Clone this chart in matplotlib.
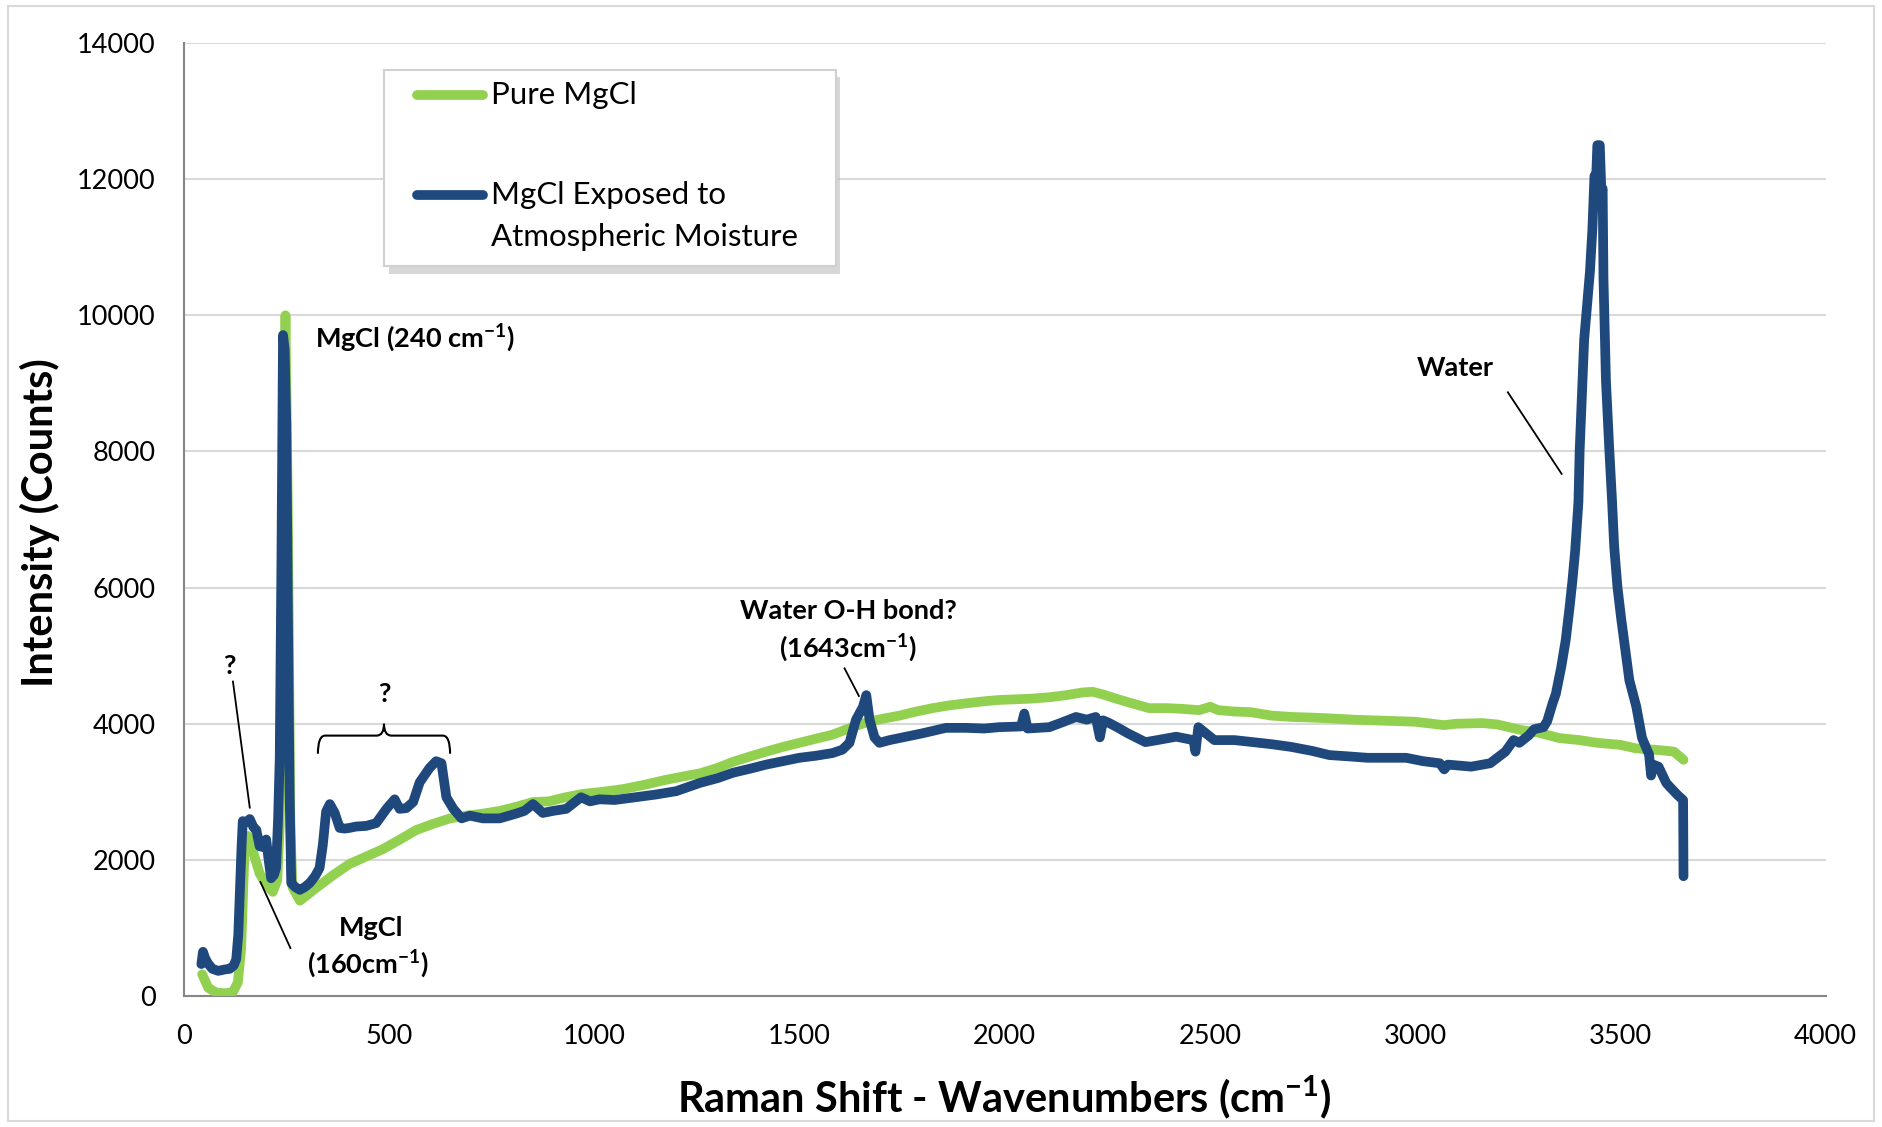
import matplotlib.pyplot as plt
from matplotlib.patches import Rectangle
from matplotlib.path import Path
from matplotlib.patches import PathPatch

plt.rcParams['font.family'] = ['Lato', 'DejaVu Sans']
plt.rcParams['mathtext.fontset'] = 'custom'
plt.rcParams['mathtext.rm'] = 'Lato'
plt.rcParams['mathtext.bf'] = 'Lato:bold'

# Pure MgCl spectrum (wavenumber, counts)
pure_x = [45, 60, 80, 100, 120, 132, 140, 149, 157, 170,
          185, 200, 217, 228, 234, 240, 248, 254, 260, 265,
          283, 323, 365, 404, 445, 486, 527, 567, 608, 649,
          689, 729, 770, 810, 851, 890, 930, 973, 1020, 1070,
          1120, 1170, 1220, 1257, 1300, 1338, 1380, 1419, 1460, 1500,
          1540, 1581, 1620, 1663, 1700, 1744, 1785, 1825, 1865, 1906,
          1950, 1987, 2030, 2068, 2110, 2150, 2190, 2214, 2240, 2271,
          2310, 2352, 2393, 2430, 2474, 2501, 2520, 2560, 2600, 2650,
          2700, 2750, 2791, 2850, 2900, 2950, 3000, 3071, 3100, 3164,
          3200, 3257, 3300, 3351, 3400, 3444, 3500, 3537, 3600, 3631,
          3654]
pure_y = [320, 120, 50, 40, 60, 200, 700, 2250, 2350, 2100,
          1800, 1650, 1530, 1700, 2500, 6000, 10000, 7000, 2500, 1600,
          1400, 1590, 1780, 1940, 2050, 2160, 2300, 2440, 2530, 2610,
          2650, 2680, 2720, 2780, 2850, 2860, 2920, 2970, 3000, 3040,
          3100, 3170, 3230, 3270, 3350, 3440, 3520, 3590, 3660, 3720,
          3780, 3840, 3930, 4020, 4070, 4120, 4180, 4230, 4270, 4300,
          4330, 4350, 4360, 4370, 4390, 4420, 4460, 4470, 4430, 4370,
          4300, 4230, 4230, 4220, 4200, 4250, 4200, 4180, 4170, 4120,
          4100, 4090, 4080, 4060, 4050, 4040, 4030, 3980, 4000, 4010,
          3990, 3910, 3870, 3790, 3760, 3720, 3690, 3640, 3610, 3590,
          3470]

# MgCl exposed to atmospheric moisture
wet_x = [43, 47, 52, 59, 70, 84, 100, 112, 122, 128,
         133, 136, 141, 144, 152, 161, 170, 177, 185, 193,
         201, 207, 213, 220, 225, 230, 234, 238, 242, 246,
         250, 254, 258, 262, 272, 283, 295, 307, 320, 331,
         339, 347, 356, 368, 380, 392, 404, 420, 445, 469,
         494, 514, 526, 542, 559, 575, 599, 615, 628, 640,
         657, 677, 697, 729, 770, 810, 830, 851, 875, 900,
         932, 968, 990, 1013, 1050, 1100, 1150, 1200, 1257, 1300,
         1338, 1380, 1419, 1460, 1500, 1540, 1581, 1605, 1622, 1638,
         1655, 1663, 1671, 1683, 1695, 1720, 1744, 1800, 1857, 1906,
         1950, 1987, 2040, 2048, 2056, 2109, 2140, 2174, 2200, 2222,
         2232, 2240, 2255, 2277, 2300, 2343, 2372, 2418, 2460, 2465,
         2472, 2482, 2511, 2560, 2604, 2650, 2698, 2750, 2791, 2840,
         2884, 2930, 2978, 3020, 3060, 3071, 3080, 3137, 3183, 3220,
         3240, 3254, 3277, 3290, 3313, 3322, 3335, 3343, 3356, 3367,
         3376, 3383, 3390, 3398, 3401, 3407, 3412, 3419, 3426, 3432,
         3437, 3441, 3444, 3450, 3454, 3457, 3459, 3465, 3473, 3480,
         3485, 3493, 3502, 3512, 3522, 3539, 3553, 3570, 3575, 3580,
         3593, 3612, 3621, 3640, 3653, 3654]
wet_y = [470, 650, 560, 480, 400, 370, 390, 400, 450, 540,
         900, 1380, 2200, 2570, 2550, 2600, 2480, 2440, 2200, 2190,
         2300, 2000, 1730, 1780, 1880, 2600, 3500, 6300, 9710, 9500,
         8400, 5600, 3000, 1660, 1600, 1560, 1600, 1660, 1760, 1880,
         2220, 2710, 2820, 2690, 2470, 2460, 2470, 2490, 2500, 2540,
         2750, 2890, 2750, 2760, 2850, 3140, 3350, 3450, 3420, 2920,
         2750, 2610, 2650, 2610, 2610, 2680, 2720, 2820, 2690, 2720,
         2750, 2920, 2860, 2890, 2880, 2920, 2960, 3010, 3130, 3200,
         3280, 3340, 3400, 3450, 3500, 3530, 3570, 3620, 3720, 4060,
         4250, 4420, 4060, 3800, 3720, 3760, 3790, 3860, 3940, 3940,
         3930, 3950, 3960, 4150, 3930, 3950, 4020, 4100, 4060, 4100,
         3800, 4050, 4010, 3940, 3860, 3730, 3760, 3810, 3760, 3590,
         3950, 3900, 3760, 3760, 3730, 3700, 3660, 3600, 3540, 3520,
         3500, 3500, 3500, 3450, 3420, 3330, 3400, 3370, 3420, 3590,
         3760, 3720, 3830, 3920, 3950, 4040, 4300, 4440, 4830, 5230,
         5690, 6080, 6540, 7260, 8020, 8900, 9650, 10150, 10640, 11270,
         12050, 12000, 12500, 12500, 11800, 11860, 10540, 9040, 8050, 7260,
         6610, 6010, 5550, 5100, 4640, 4250, 3790, 3550, 3240, 3400,
         3370, 3130, 3070, 2950, 2880, 1760]

x_ticks = [0, 500, 1000, 1500, 2000, 2500, 3000, 3500, 4000]
y_ticks = [0, 2000, 4000, 6000, 8000, 10000, 12000, 14000]

GREEN = '#92d050'
BLUE = '#1f497d'

fig = plt.figure(figsize=(18.82, 11.27), dpi=100)
ax = fig.add_axes([0.0976, 0.1162, 0.8724, 0.8456])

ax.plot(pure_x, pure_y, color=GREEN, lw=7, solid_joinstyle='round',
        solid_capstyle='round', zorder=3)
ax.plot(wet_x, wet_y, color=BLUE, lw=7, solid_joinstyle='round',
        solid_capstyle='round', zorder=4)

ax.set_xlim(0, 4000)
ax.set_ylim(0, 14000)
ax.set_xticks(x_ticks)
ax.set_yticks(y_ticks)
ax.tick_params(axis='both', length=0, labelsize=19.5, colors='black')
ax.tick_params(axis='x', pad=20)
ax.tick_params(axis='y', pad=20)
ax.grid(axis='y', color='#d9d9d9', lw=1.5)
ax.set_axisbelow(True)
for s in ['top', 'right']:
    ax.spines[s].set_visible(False)
for s in ['left', 'bottom']:
    ax.spines[s].set_color('#868686')
    ax.spines[s].set_linewidth(1.5)

ax.set_xlabel(r'Raman Shift - Wavenumbers (cm$^{\mathbf{-1}}$)', fontsize=30, fontweight='bold')
ax.set_ylabel('Intensity (Counts)', fontsize=30, fontweight='bold')
ax.xaxis.set_label_coords(0.5, -0.107)
ax.xaxis.label.set_va('center')
ax.yaxis.set_label_coords(-0.0877, 0.497)
ax.yaxis.label.set_va('center')

# annotations
ann = dict(fontsize=19.5, fontweight='bold', ha='center', va='center', zorder=6)
ax.text(321, 9665, r'MgCl (240 cm$^{\mathbf{-1}}$)', **{**ann, 'ha': 'left'})
ax.text(3097, 9222, 'Water', **ann)
ax.plot([3226, 3357], [8870, 7671], color='black', lw=1.3, zorder=6)
ax.text(1619, 5660, 'Water O-H bond?', **ann)
ax.text(1619, 5114, r'(1643cm$^{\mathbf{-1}}$)', **ann)
ax.plot([1610, 1645], [4814, 4408], color='black', lw=1.3, zorder=6)
ax.text(111, 4849, '?', **ann)
ax.plot([120, 161], [4620, 2768], color='black', lw=1.3, zorder=6)
ax.text(488, 4444, '?', **ann)
ax.text(456, 1005, 'MgCl', **ann)
ax.text(450, 476, r'(160cm$^{\mathbf{-1}}$)', **ann)
ax.plot([187, 260], [1675, 705], color='black', lw=1.3, zorder=6)

# curly brace over the 300-650 bumps
brace = Path([(327, 3560), (327, 3826), (345, 3826),
              (470, 3826), (488, 3826), (488, 4000),
              (488, 3826), (506, 3826),
              (631, 3826), (649, 3826), (649, 3560)],
             [Path.MOVETO, Path.CURVE3, Path.CURVE3,
              Path.LINETO, Path.CURVE3, Path.CURVE3,
              Path.CURVE3, Path.CURVE3,
              Path.LINETO, Path.CURVE3, Path.CURVE3])
ax.add_patch(PathPatch(brace, fill=False, color='black', lw=1.5, zorder=6))

# legend drawn by hand to match the spaced out box
lx0, ly0, lw_, lh_ = 0.122, 0.766, 0.275, 0.206
ax.add_patch(Rectangle((lx0 + 0.003, ly0 - 0.008), lw_, lh_, transform=ax.transAxes,
                       facecolor='#bdbdbd', edgecolor='none', alpha=0.6, zorder=7))
ax.add_patch(Rectangle((lx0, ly0), lw_, lh_, transform=ax.transAxes,
                       facecolor='white', edgecolor='#d0d0d0', lw=1.5, zorder=8))
ax.plot([0.1424, 0.1826], [0.946, 0.946], transform=ax.transAxes, color=GREEN,
        lw=7, solid_capstyle='round', zorder=9)
ax.plot([0.1424, 0.1826], [0.841, 0.841], transform=ax.transAxes, color=BLUE,
        lw=7, solid_capstyle='round', zorder=9)
ax.text(0.187, 0.946, 'Pure MgCl', transform=ax.transAxes, fontsize=22.5,
        va='center', ha='left', zorder=9)
ax.text(0.187, 0.841, 'MgCl Exposed to', transform=ax.transAxes, fontsize=22.5,
        va='center', ha='left', zorder=9)
ax.text(0.187, 0.797, 'Atmospheric Moisture', transform=ax.transAxes, fontsize=22.5,
        va='center', ha='left', zorder=9)

# outer chart border
fig.patches.append(Rectangle((0.004, 0.005), 0.992, 0.99, transform=fig.transFigure,
                             fill=False, edgecolor='#d9d9d9', lw=1.5))

fig.savefig('out.png', dpi=100)
